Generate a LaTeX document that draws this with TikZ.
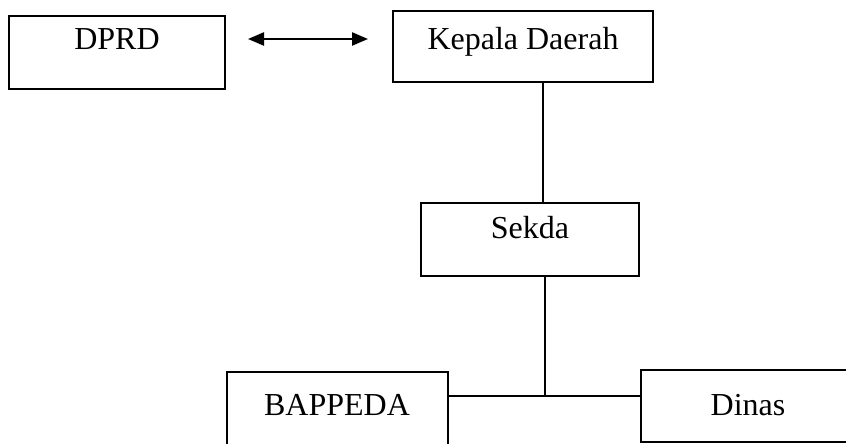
\documentclass[tikz,border=0pt]{standalone}
\usepackage{fontspec}
\setmainfont{Liberation Serif}
\usetikzlibrary{arrows.meta}
\begin{document}
\begin{tikzpicture}[x=0.5pt,y=-0.5pt,
  box/.style={draw=black,line width=1pt,inner sep=0pt},
  lbl/.style={inner sep=0pt,anchor=base,font=\fontsize{16}{19}\selectfont},
  conn/.style={draw=black,line width=0.9pt}]
\useasboundingbox[fill=white] (0,0) rectangle (846,444);
\clip (0,0) rectangle (846,444);
% boxes
\node[box,minimum width=108pt,minimum height=36.5pt] (dprd) at (117,52.5) {};
\node[box,minimum width=130pt,minimum height=35.5pt] (kd) at (523,46.5) {};
\node[box,minimum width=109pt,minimum height=36.5pt] (sekda) at (530,239.5) {};
\node[box,minimum width=110.5pt,minimum height=37pt] (bap) at (337.5,409) {};
\node[box,minimum width=107pt,minimum height=36pt] (dinas) at (748,406) {};
% labels
\node[lbl] (tdprd) at (117,50) {DPRD};
\node[lbl] (tkd) at (523,50) {Kepala Daerah};
\node[lbl] (tsekda) at (530,238) {Sekda};
\node[lbl] (tbap) at (337,415) {BAPPEDA};
\node[lbl] (tdinas) at (748,415) {Dinas};
% arrow
\coordinate (al) at (248,39);
\coordinate (ar) at (368,39);
\draw[draw=black,line width=1.2pt,{Triangle[length=8pt,width=6.5pt]}-{Triangle[length=8pt,width=6.5pt]}] (al) -- (ar);
% connectors
\draw[conn] (kd.south -| 543,0) -- (sekda.north -| 543,0);
\coordinate (j) at (545,396);
\draw[conn] (sekda.south -| j) -- (j);
\draw[conn] (bap.east |- j) -- (dinas.west |- j);
\end{tikzpicture}
\end{document}
